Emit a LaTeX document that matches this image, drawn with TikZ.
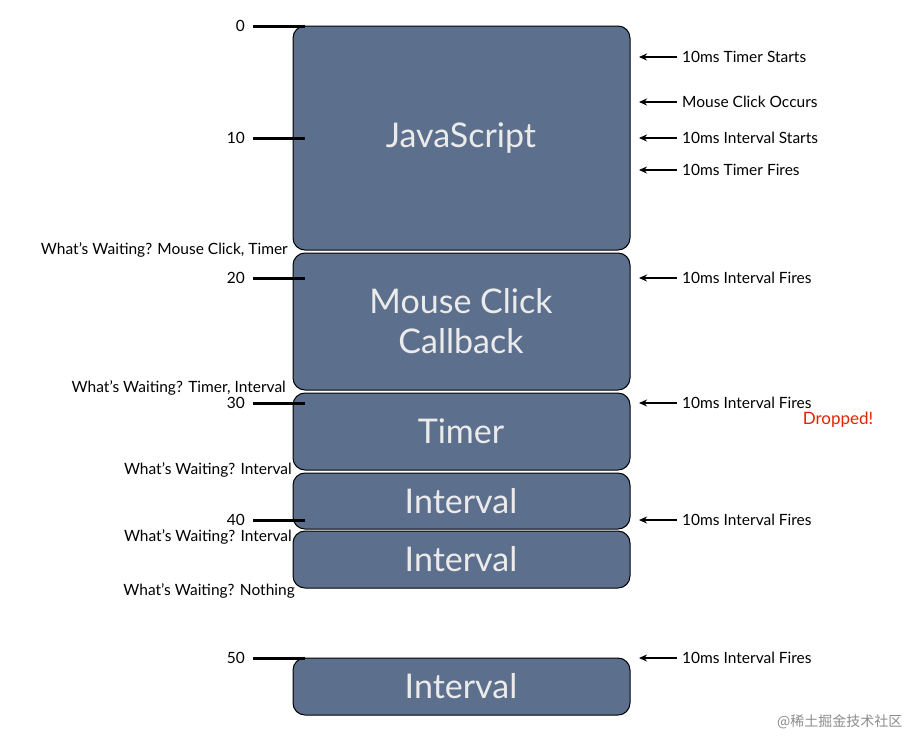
\documentclass[tikz,border=0pt]{standalone}
\usepackage{fontspec}
\setmainfont{Lato}
\newfontfamily\cjk{Noto Sans CJK SC}
\usetikzlibrary{arrows.meta}
\begin{document}
\begin{tikzpicture}[x=1pt,y=-1pt,
 blk/.style={draw=black,line width=1pt,fill=boxc,rounded corners=12pt},
 tmark/.style={draw=black,line width=3pt},
 lab/.style={font=\fontsize{15.5}{17}\selectfont,inner sep=1pt},
 arr/.style={-{Stealth[length=8pt,width=7pt]},line width=1.4pt}]
\definecolor{boxc}{HTML}{5C6F8C}
\useasboundingbox (0,0) rectangle (912,740);
\def\blkx#1#2#3#4{\draw[blk] (293,#2) rectangle (630,#3); \node[text=white!92!black,font=\fontsize{34}{40}\selectfont,align=center] (#1) at (461,{(#2+#3)/2}) {#4};}
\blkx{js}{26}{250}{JavaScript}
\blkx{mc}{253}{390}{Mouse Click\\Callback}
\blkx{tm}{393}{470}{Timer}
\blkx{i1}{473}{529}{Interval}
\blkx{i2}{531}{588}{Interval}
\blkx{i3}{658}{715}{Interval}
\foreach \n/\y in {0/26,10/138,20/278,30/403,40/520,50/658}{
 \coordinate (ta\n) at (253,\y); \coordinate (tb\n) at (305,\y);
 \draw[tmark] (ta\n) -- (tb\n);
 \node[lab,anchor=east] (tl\n) at (246,\y) {\n};}
\foreach \i/\y/\t in {1/57/10ms Timer Starts,2/102/Mouse Click Occurs,3/138/10ms Interval Starts,4/170/10ms Timer Fires,5/278/10ms Interval Fires,6/403/10ms Interval Fires,7/520/10ms Interval Fires,8/658/10ms Interval Fires}{
 \coordinate (as\i) at (677,\y); \coordinate (ae\i) at (639,\y);
 \draw[arr] (as\i) -- (ae\i);
 \node[lab,anchor=west] (al\i) at (681,\y) {\t};}
\node[anchor=center,text=red!70!orange!90!black,font=\fontsize{17}{19}\selectfont] (dr) at (838,420) {Dropped!};
\node[lab,anchor=east] (w1) at (289,250) {What’s Waiting? Mouse Click, Timer};
\node[lab,anchor=east] (w2) at (287,388) {What’s Waiting? Timer, Interval};
\node[lab,anchor=east] (w3) at (293,470) {What’s Waiting? Interval};
\node[lab,anchor=east] (w4) at (293,537) {What’s Waiting? Interval};
\node[lab,anchor=east] (w5) at (296,591) {What’s Waiting? Nothing};
\node[anchor=east,text=black!45,font=\cjk\fontsize{14}{16}\selectfont] (wm) at (906,722) {@稀土掘金技术社区};
\end{tikzpicture}
\end{document}
